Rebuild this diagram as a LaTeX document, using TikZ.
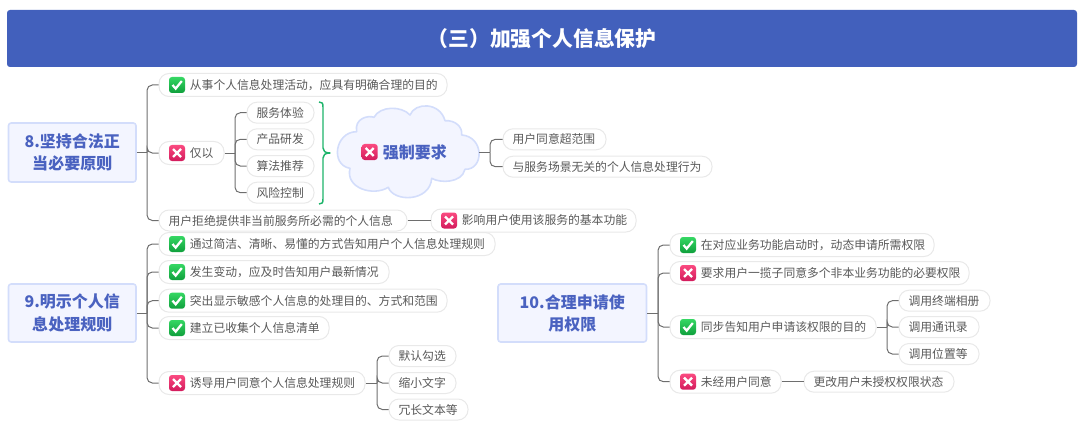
\documentclass[tikz,border=0pt]{standalone}
\usepackage{fontspec}
\setmainfont{Noto Sans CJK SC}
\definecolor{txt}{HTML}{595959}
\definecolor{rootblue}{HTML}{4A62C0}
\definecolor{rootfill}{HTML}{F3F5FF}
\definecolor{rootline}{HTML}{D3DDFB}
\definecolor{pillline}{HTML}{E9E9E9}
\definecolor{conn}{HTML}{6E6E6E}
\definecolor{titlebg}{HTML}{4260BC}
\definecolor{bracegreen}{HTML}{1DB46A}
\definecolor{oktop}{HTML}{35D763}
\definecolor{okbot}{HTML}{0F9F3C}
\definecolor{notop}{HTML}{FA4A80}
\definecolor{nobot}{HTML}{D31B5C}
\newcommand\pxfont[1]{\fontsize{\dimexpr#1pt*3/4\relax}{16.6pt}\selectfont}
\tikzset{
  pillbox/.style={draw=pillline,fill=white,line width=.75pt,rounded corners=7.5pt,inner sep=0pt,text=txt,font=\pxfont{11.8}},
  rootbox/.style={draw=rootline,fill=rootfill,line width=1.2pt,rounded corners=2pt,inner sep=0pt,align=center,text=rootblue,font=\pxfont{16}\bfseries},
  linkline/.style={draw=conn,line width=.75pt},
  bendline/.style={linkline,rounded corners=4pt},
  okicon/.pic={
    \path[rounded corners=2.2pt,top color=oktop,bottom color=okbot] (-8,-8) rectangle (8,8);
    \draw[white,line width=1.7pt] (-4.5,0) -- (-1.3,3.6) -- (4.8,-4);
  },
  noicon/.pic={
    \path[rounded corners=2.2pt,top color=notop,bottom color=nobot] (-8,-8) rectangle (8,8);
    \draw[white,line width=1.8pt] (-4,-4) -- (4,4) (-4,4) -- (4,-4);
  }
}
% name, x1, x2, y, text
\newcommand\plainpill[5]{%
  \pgfmathsetmacro\pw{(#3-#2)*0.75}\pgfmathsetmacro\pc{(#2+#3)/2}%
  \node[pillbox,minimum width=\pw pt,minimum height=15.75pt] (#1) at (\pc,#4)
    {\makebox[\pw pt][l]{\hspace{7.2pt}#5}};}
\newcommand\iconpill[6]{%
  \pgfmathsetmacro\pw{(#4-#3)*0.75}\pgfmathsetmacro\pc{(#3+#4)/2}\pgfmathsetmacro\ic{#3+18}%
  \node[pillbox,minimum width=\pw pt,minimum height=17.25pt] (#2) at (\pc,#5)
    {\makebox[\pw pt][l]{\hspace{23.2pt}#6}};
  \pic at (\ic,#5) {#1};}
\newcommand\rootnode[6]{%
  \pgfmathsetmacro\pw{(#3-#2)*0.75}\pgfmathsetmacro\ph{(#5-#4)*0.75}%
  \pgfmathsetmacro\pc{(#2+#3)/2}\pgfmathsetmacro\pm{(#4+#5)/2}%
  \node[rootbox,minimum width=\pw pt,minimum height=\ph pt] (#1) at (\pc,\pm) {#6};}
\begin{document}
\begin{tikzpicture}[x=0.75pt,y=-0.75pt]
\useasboundingbox (0,0) rectangle (1080,424);
% title
\node[fill=titlebg,rounded corners=2.2pt,minimum width=802.5pt,minimum height=42.75pt,inner sep=0pt,text=white,font=\pxfont{20.8}\bfseries] (title) at (542,38.5) {（三）加强个人信息保护};
% roots
\rootnode{r8}{8.5}{136}{123}{182}{8.坚持合法正\\当必要原则}
\rootnode{r9}{8.5}{136}{284}{342}{9.明示个人信\\息处理规则}
\rootnode{r10}{498}{646.5}{284}{342}{10.合理申请使\\用权限}
% section 8
\iconpill{okicon}{a1}{159}{447}{85}{从事个人信息处理活动，应具有明确合理的目的}
\iconpill{noicon}{a2}{159}{224}{153}{仅以}
\plainpill{a3}{159}{407}{220.5}{用户拒绝提供非当前服务所必需的个人信息}
\iconpill{noicon}{a4}{431}{636}{220.5}{影响用户使用该服务的基本功能}
\plainpill{b1}{247}{314}{112.7}{服务体验}
\plainpill{b2}{247}{314}{139.3}{产品研发}
\plainpill{b3}{247}{314}{166}{算法推荐}
\plainpill{b4}{247}{314}{192.7}{风险控制}
% cloud
\draw[draw=rootline,fill=rootfill,line width=1.2pt,line join=round]
  (356.7,131.7) .. controls (354,118.3) and (368.3,115) .. (374,117.3)
  .. controls (380,105.7) and (401.7,105.7) .. (410,115)
  .. controls (415,102) and (440,102) .. (445,120.7)
  .. controls (455,120) and (462.7,126.7) .. (461.7,135)
  .. controls (484.3,136.7) and (484.3,170) .. (465,169.3)
  .. controls (461.7,183.3) and (440,183.3) .. (431.7,178.3)
  .. controls (430,202.3) and (393.3,202.3) .. (388.3,187.3)
  .. controls (373.3,196.7) and (345,188.3) .. (350,168.3)
  .. controls (330,165) and (335,131.7) .. cycle;
\coordinate (cl) at (479,152.5);
\pic at (369.7,152) {noicon};
\node[text=rootblue,font=\pxfont{16}\bfseries,inner sep=0pt,anchor=west] (cltext) at (382.5,152) {强制要求};
\plainpill{c1}{503}{606}{139.3}{用户同意超范围}
\plainpill{c2}{503}{712}{166.7}{与服务场景无关的个人信息处理行为}
\draw[bracegreen,line width=1.1pt,line join=round] (319,102) .. controls (322,102) and (323,103) .. (323,107) -- (323,148) .. controls (323,151) and (325,153) .. (330,153) .. controls (325,153) and (323,155) .. (323,158) -- (323,199) .. controls (323,203) and (322,204) .. (319,204);
% section 9
\iconpill{okicon}{d1}{159}{495}{244}{通过简洁、清晰、易懂的方式告知用户个人信息处理规则}
\iconpill{okicon}{d2}{159}{389}{272}{发生变动，应及时告知用户最新情况}
\iconpill{okicon}{d3}{159}{447}{300.7}{突出显示敏感个人信息的处理目的、方式和范围}
\iconpill{okicon}{d4}{159}{329}{328}{建立已收集个人信息清单}
\iconpill{noicon}{d5}{159}{365}{383}{诱导用户同意个人信息处理规则}
\plainpill{e1}{389}{456}{356}{默认勾选}
\plainpill{e2}{389}{456}{383}{缩小文字}
\plainpill{e3}{389}{468}{409.5}{冗长文本等}
% section 10
\iconpill{okicon}{f1}{670}{934}{245}{在对应业务功能启动时，动态申请所需权限}
\iconpill{noicon}{f2}{670}{969}{273}{要求用户一揽子同意多个非本业务功能的必要权限}
\iconpill{okicon}{f3}{670}{876}{327}{同步告知用户申请该权限的目的}
\iconpill{noicon}{f4}{670}{781}{381.7}{未经用户同意}
\plainpill{g1}{899}{990}{300.7}{调用终端相册}
\plainpill{g2}{899}{979}{327}{调用通讯录}
\plainpill{g3}{899}{979}{354}{调用位置等}
\plainpill{g4}{804}{954}{381.7}{更改用户未授权权限状态}
% trunks
\coordinate (t8) at (147,152.5);
\coordinate (t9) at (147,313);
\coordinate (t10) at (658,313);
\coordinate (tb) at (235,153);
\coordinate (tc) at (490,152.5);
\coordinate (te) at (377,383);
\coordinate (tg) at (887,327);
% connectors
\draw[linkline] (r8.east) -- (t8);
\foreach \n in {a1,a2,a3} \draw[bendline] (t8) |- (\n.west);
\draw[linkline] (a3.east) -- (a4.west);
\draw[linkline] (a2.east) -- (tb);
\foreach \n in {b1,b2,b3,b4} \draw[bendline] (tb) |- (\n.west);
\draw[linkline] (cl) -- (tc);
\foreach \n in {c1,c2} \draw[bendline] (tc) |- (\n.west);
\draw[linkline] (r9.east) -- (t9);
\foreach \n in {d1,d2,d3,d4,d5} \draw[bendline] (t9) |- (\n.west);
\draw[linkline] (d5.east) -- (te);
\foreach \n in {e1,e2,e3} \draw[bendline] (te) |- (\n.west);
\draw[linkline] (r10.east) -- (t10);
\foreach \n in {f1,f2,f3,f4} \draw[bendline] (t10) |- (\n.west);
\draw[linkline] (f3.east) -- (tg);
\foreach \n in {g1,g2,g3} \draw[bendline] (tg) |- (\n.west);
\draw[linkline] (f4.east) -- (g4.west);
\end{tikzpicture}
\end{document}
